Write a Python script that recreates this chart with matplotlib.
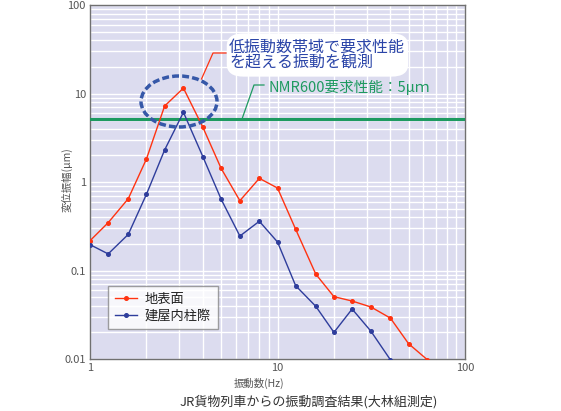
import matplotlib
matplotlib.use("Agg")
import matplotlib.pyplot as plt
from matplotlib.patches import Ellipse, FancyBboxPatch
from matplotlib.lines import Line2D
from matplotlib.ticker import LogLocator, FixedLocator, FixedFormatter, NullFormatter

plt.rcParams['font.family'] = ['Noto Sans CJK JP', 'DejaVu Sans']

freq = [1, 1.25, 1.6, 2, 2.5, 3.15, 4, 5, 6.3, 8, 10, 12.5, 16, 20, 25, 31.5, 40, 50, 63]
ground = [0.217, 0.347, 0.648, 1.82, 7.22, 11.5, 4.15, 1.43, 0.615, 1.10, 0.855,
          0.292, 0.091, 0.0506, 0.0452, 0.0387, 0.029, 0.0149, 0.0098]
freq_b = [1, 1.25, 1.6, 2, 2.5, 3.15, 4, 5, 6.3, 8, 10, 12.5, 16, 20, 25, 31.5, 40]
building = [0.196, 0.154, 0.256, 0.726, 2.30, 6.13, 1.93, 0.642, 0.245, 0.36, 0.21,
            0.0673, 0.0394, 0.020, 0.0367, 0.0206, 0.0098]
requirement = 5.1

x_ticks = [1, 10, 100]
x_labels = ['1', '10', '100']
y_ticks = [0.01, 0.1, 1, 10, 100]
y_labels = ['0.01', '0.1', '1', '10', '100']

W, H = 561, 411
fig = plt.figure(figsize=(W / 100, H / 100), dpi=100)
ax = fig.add_axes([90 / W, 1 - 359 / H, (465 - 90) / W, (359 - 5) / H])

def fx(px):
    return px / W

def fy(py):
    return 1 - py / H

ax.set_facecolor('#dcdcef')
ax.set_xscale('log')
ax.set_yscale('log')
ax.set_xlim(1, 100)
ax.set_ylim(0.01, 100)

ax.xaxis.set_major_locator(FixedLocator(x_ticks))
ax.xaxis.set_major_formatter(FixedFormatter(x_labels))
ax.yaxis.set_major_locator(FixedLocator(y_ticks))
ax.yaxis.set_major_formatter(FixedFormatter(y_labels))
ax.xaxis.set_minor_locator(LogLocator(base=10, subs=range(2, 10)))
ax.yaxis.set_minor_locator(LogLocator(base=10, subs=range(2, 10)))
ax.xaxis.set_minor_formatter(NullFormatter())
ax.yaxis.set_minor_formatter(NullFormatter())
ax.grid(True, which='both', color='white', linewidth=1.0)
ax.set_axisbelow(True)
ax.tick_params(which='both', length=0, labelsize=8, labelcolor='#555555', pad=3)
for s in ax.spines.values():
    s.set_color('#707070')
    s.set_linewidth(1.0)

red = '#ff3311'
blue = '#2e3d9c'
green = '#1e9a60'

ax.axhline(requirement, color=green, linewidth=2.2, zorder=3)
ax.plot(freq, ground, color=red, linewidth=1.0, marker='o', markersize=2.6, zorder=4, clip_on=True)
ax.plot(freq_b, building, color=blue, linewidth=1.0, marker='o', markersize=2.6, zorder=4, clip_on=True)

# legend
leg_handles = [Line2D([], [], color=red, linewidth=1.0, marker='o', markersize=2.6),
               Line2D([], [], color=blue, linewidth=1.0, marker='o', markersize=2.6)]
leg = ax.legend(leg_handles, ['地表面', '建屋内柱際'], loc='upper left',
                bbox_to_anchor=((108 - 90) / 375, 1 - (286 - 5) / 354),
                frameon=True, fancybox=False, fontsize=9.5, handlelength=1.7,
                borderpad=0.5, labelspacing=0.3, handletextpad=0.6, borderaxespad=0)
leg.get_frame().set_edgecolor('#888888')
leg.get_frame().set_linewidth(1.0)
for t in leg.get_texts():
    t.set_color('#222222')

# dashed ellipse
ell = Ellipse((fx(179), fy(101.5)), 76 / W, 51 / H, transform=fig.transFigure,
              fill=False, edgecolor='#3658a8', linewidth=2.5, linestyle=(0, (2.0, 0.9)), zorder=6)
fig.add_artist(ell)

# bubble annotation
box = FancyBboxPatch((fx(229), fy(75)), (406 - 229) / W, (75 - 35) / H,
                     boxstyle='round,pad=0.004,rounding_size=0.03',
                     transform=fig.transFigure, facecolor='white', edgecolor='none', zorder=7)
fig.add_artist(box)
fig.text(fx(229), fy(47), '低振動数帯域で要求性能', color='#2b45a8', fontsize=11.5,
         va='center', ha='left', zorder=8)
fig.text(fx(229), fy(63), 'を超える振動を観測', color='#2b45a8', fontsize=11.5,
         va='center', ha='left', zorder=8)
fig.add_artist(Line2D([fx(226), fx(213), fx(201.5)], [fy(53), fy(53), fy(79)],
                      color=red, linewidth=0.9, transform=fig.transFigure, zorder=7))

# green label
fig.text(fx(268), fy(87), 'NMR600要求性能：5μｍ', color=green, fontsize=10.5,
         va='center', ha='left', zorder=8)
fig.add_artist(Line2D([fx(264), fx(254), fx(242)], [fy(85), fy(85), fy(119)],
                      color=green, linewidth=0.9, transform=fig.transFigure, zorder=7))

# axis labels
fig.text(fx(259), fy(383), '振動数(Hz)', color='#555555', fontsize=7.5, ha='center', va='center')
fig.text(fx(67), fy(180), '変位振幅(μm)', color='#555555', fontsize=7.5, ha='center', va='center',
         rotation=90)
fig.text(fx(309), fy(402), 'JR貨物列車からの振動調査結果(大林組測定)', color='#333333',
         fontsize=9.4, ha='center', va='center')

fig.savefig('out.png', dpi=100, facecolor='white')
